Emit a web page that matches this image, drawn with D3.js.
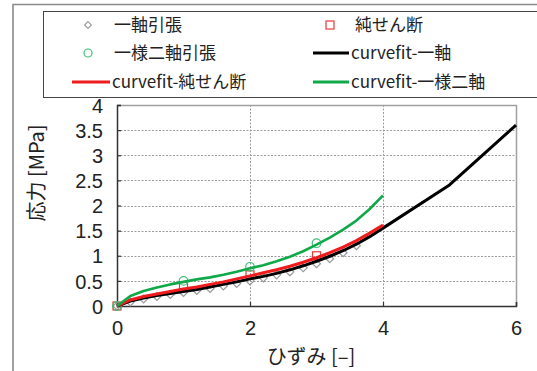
<!DOCTYPE html>
<html>
<head>
<meta charset="utf-8">
<script src="https://cdn.jsdelivr.net/npm/d3@7"></script>
<style>
  html, body { margin: 0; padding: 0; background: #fff; }
  svg { display: block; }
  text { fill: #222; }
</style>
</head>
<body>
<svg id="chart" width="537" height="371"></svg>
<script>
// Measured data: stress [MPa] vs strain [-]
const uniaxialX   = [0, 0.2, 0.4, 0.6, 0.8, 1.0, 1.2, 1.4, 1.6, 1.8, 2.0, 2.2, 2.4, 2.6, 2.8, 3.0, 3.2, 3.4, 3.6];
const uniaxialY   = [0, 0.08, 0.14, 0.19, 0.23, 0.27, 0.31, 0.35, 0.40, 0.45, 0.50, 0.56, 0.62, 0.68, 0.76, 0.84, 0.94, 1.06, 1.20];
const shearX      = [0, 1, 2, 3];
const shearY      = [0, 0.40, 0.62, 1.00];
const biaxialX    = [0, 1, 2, 3];
const biaxialY    = [0, 0.50, 0.78, 1.25];

// Curve-fit results
const fitUniX   = [0, 0.2, 0.4, 0.6, 0.8, 1.0, 1.2, 1.4, 1.6, 1.8, 2.0, 2.2, 2.4, 2.6, 2.8, 3.0, 3.2, 3.4, 3.6, 3.8, 4.0, 5, 6];
const fitUniY   = [0, 0.10, 0.16, 0.21, 0.25, 0.29, 0.33, 0.38, 0.43, 0.48, 0.54, 0.59, 0.65, 0.72, 0.80, 0.89, 0.99, 1.10, 1.23, 1.38, 1.55, 2.41, 3.60];
const fitShearX = [0, 0.2, 0.4, 0.6, 0.8, 1.0, 1.2, 1.4, 1.6, 1.8, 2.0, 2.2, 2.4, 2.6, 2.8, 3.0, 3.2, 3.4, 3.6, 3.8, 4.0];
const fitShearY = [0, 0.12, 0.19, 0.24, 0.29, 0.34, 0.38, 0.43, 0.48, 0.54, 0.60, 0.66, 0.72, 0.79, 0.87, 0.96, 1.06, 1.17, 1.30, 1.45, 1.61];
const fitBiX    = [0, 0.2, 0.4, 0.6, 0.8, 1.0, 1.2, 1.4, 1.6, 1.8, 2.0, 2.2, 2.4, 2.6, 2.8, 3.0, 3.2, 3.4, 3.6, 3.8, 4.0];
const fitBiY    = [0, 0.20, 0.30, 0.37, 0.43, 0.48, 0.53, 0.57, 0.62, 0.68, 0.75, 0.81, 0.89, 0.98, 1.09, 1.22, 1.36, 1.52, 1.70, 1.93, 2.20];

const xTicks = [0, 2, 4, 6];
const yTicks = [0, 0.5, 1, 1.5, 2, 2.5, 3, 3.5, 4];

const seriesLabels = ["一軸引張", "純せん断", "一様二軸引張", "curvefit-一軸", "curvefit-純せん断", "curvefit-一様二軸"];
const xTitle = "ひずみ [–]";
const yTitle = "応力 [MPa]";

const C = { gray: "#9a9a9a", red: "#ee1c1c", redMk: "#e83a3a", green: "#10a94a", greenMk: "#3cc07a", black: "#000" };

const svg = d3.select("#chart");
const plot = { left: 117, right: 516, top: 105, bottom: 306 };

const x = d3.scaleLinear().domain([0, 6]).range([plot.left, plot.right]);
const y = d3.scaleLinear().domain([0, 4]).range([plot.bottom, plot.top]);

// Outer chart frame (top and left edges visible)
svg.append("path")
  .attr("d", `M13,371 V4.5 H537`)
  .attr("fill", "none").attr("stroke", "#8a8a8a").attr("stroke-width", 1.6);

// Legend box
svg.append("rect")
  .attr("x", 43.5).attr("y", 11.5).attr("width", 520).attr("height", 86)
  .attr("fill", "#fff").attr("stroke", "#444").attr("stroke-width", 1);

// Grid lines
const grid = svg.append("g").attr("stroke", "#9c9c9c").attr("stroke-width", 1).attr("stroke-dasharray", "2,1.5");
yTicks.filter(t => t > 0 && t < 4).forEach(t => {
  grid.append("line").attr("x1", plot.left).attr("x2", plot.right)
    .attr("y1", Math.round(y(t)) + 0.5).attr("y2", Math.round(y(t)) + 0.5);
});
xTicks.filter(t => t > 0 && t < 6).forEach(t => {
  grid.append("line").attr("y1", plot.top).attr("y2", plot.bottom)
    .attr("x1", Math.round(x(t)) + 0.5).attr("x2", Math.round(x(t)) + 0.5);
});

// Plot frame: top and right light, bottom and left dark
svg.append("path").attr("d", `M${plot.left},${plot.top + 0.5} H${plot.right + 0.5} V${plot.bottom}`)
  .attr("fill", "none").attr("stroke", "#a0a0a0").attr("stroke-width", 1.5);

// Axes with inward ticks
const xAxis = d3.axisBottom(x).tickValues(xTicks).tickSize(-4).tickPadding(12).tickFormat(d3.format("d"));
const yAxis = d3.axisLeft(y).tickValues(yTicks).tickSize(-4).tickPadding(14).tickFormat(d => String(d));

const gx = svg.append("g").attr("transform", `translate(0,${plot.bottom})`).call(xAxis);
const gy = svg.append("g").attr("transform", `translate(${plot.left},0)`).call(yAxis);
[gx, gy].forEach(g => {
  g.select(".domain").attr("stroke", "#333").attr("stroke-width", 1.5);
  g.selectAll(".tick line").attr("stroke", "#333").attr("stroke-width", 1.2);
  g.selectAll(".tick text")
    .attr("fill", "#222")
    .style("font-family", "'Liberation Sans Narrow', 'Liberation Sans', Arial, sans-serif")
    .style("font-size", "20px");
});
gx.selectAll(".tick text").attr("dy", "0.85em");
gy.selectAll(".tick text").attr("dy", "0.36em");

// Axis titles
svg.append("text")
  .attr("x", 311).attr("y", 364).attr("text-anchor", "middle")
  .style("font-family", "'Noto Sans CJK JP', sans-serif").style("font-size", "20px")
  .text(xTitle);
svg.append("text")
  .attr("transform", "translate(44,173) rotate(-90)").attr("text-anchor", "middle")
  .style("font-family", "'Noto Sans CJK JP', sans-serif").style("font-size", "20px")
  .text(yTitle);

// Markers
const zip = (xs, ys) => xs.map((v, i) => [v, ys[i]]);
const mk = svg.append("g").attr("fill", "none");

mk.selectAll("path.dia").data(zip(uniaxialX, uniaxialY)).join("path")
  .attr("class", "dia")
  .attr("d", d3.symbol(d3.symbolDiamond2, 40))
  .attr("transform", d => `translate(${x(d[0])},${y(d[1])})`)
  .attr("stroke", C.gray).attr("stroke-width", 1.2);

mk.selectAll("rect.sq").data(zip(shearX, shearY)).join("rect")
  .attr("class", "sq")
  .attr("x", d => x(d[0]) - 4).attr("y", d => y(d[1]) - 4)
  .attr("width", 8).attr("height", 8)
  .attr("stroke", C.redMk).attr("stroke-width", 1.2);

mk.selectAll("circle.ci").data(zip(biaxialX, biaxialY)).join("circle")
  .attr("class", "ci")
  .attr("cx", d => x(d[0])).attr("cy", d => y(d[1])).attr("r", 4.3)
  .attr("stroke", C.greenMk).attr("stroke-width", 1.2);

// Fit curves
const line = d3.line().x(d => x(d[0])).y(d => y(d[1])).curve(d3.curveLinear);
const curves = svg.append("g").attr("fill", "none").attr("stroke-linejoin", "round");
curves.append("path").datum(zip(fitUniX, fitUniY)).attr("d", line)
  .attr("stroke", C.black).attr("stroke-width", 3);
curves.append("path").datum(zip(fitShearX, fitShearY)).attr("d", line)
  .attr("stroke", C.red).attr("stroke-width", 3);
curves.append("path").datum(zip(fitBiX, fitBiY)).attr("d", line)
  .attr("stroke", C.green).attr("stroke-width", 2.6);

// Legend entries
const lg = svg.append("g")
  .style("font-family", "'Noto Sans CJK JP', sans-serif").style("font-size", "17px");
const rows = [25, 53, 82];
const col1 = 88, col2 = 330;

lg.append("path").attr("d", d3.symbol(d3.symbolDiamond2, 30))
  .attr("transform", `translate(${col1},${rows[0]})`)
  .attr("fill", "none").attr("stroke", C.gray).attr("stroke-width", 1.1);
lg.append("rect").attr("x", col2 - 4).attr("y", rows[0] - 4).attr("width", 8).attr("height", 8)
  .attr("fill", "none").attr("stroke", C.redMk).attr("stroke-width", 1.2);
lg.append("circle").attr("cx", col1).attr("cy", rows[1]).attr("r", 4)
  .attr("fill", "none").attr("stroke", C.greenMk).attr("stroke-width", 1.2);
lg.append("line").attr("x1", 313).attr("x2", 349).attr("y1", rows[1]).attr("y2", rows[1])
  .attr("stroke", C.black).attr("stroke-width", 3);
lg.append("line").attr("x1", 72).attr("x2", 110).attr("y1", rows[2]).attr("y2", rows[2])
  .attr("stroke", C.red).attr("stroke-width", 3);
lg.append("line").attr("x1", 313).attr("x2", 349).attr("y1", rows[2]).attr("y2", rows[2])
  .attr("stroke", C.green).attr("stroke-width", 3);

const labelPos = [[114, rows[0]], [355, rows[0]], [114, rows[1]], [351, rows[1]], [112, rows[2]], [351, rows[2]]];
seriesLabels.forEach((t, i) => {
  lg.append("text").attr("x", labelPos[i][0]).attr("y", labelPos[i][1]).attr("dy", "0.36em").text(t);
});
</script>
</body>
</html>
